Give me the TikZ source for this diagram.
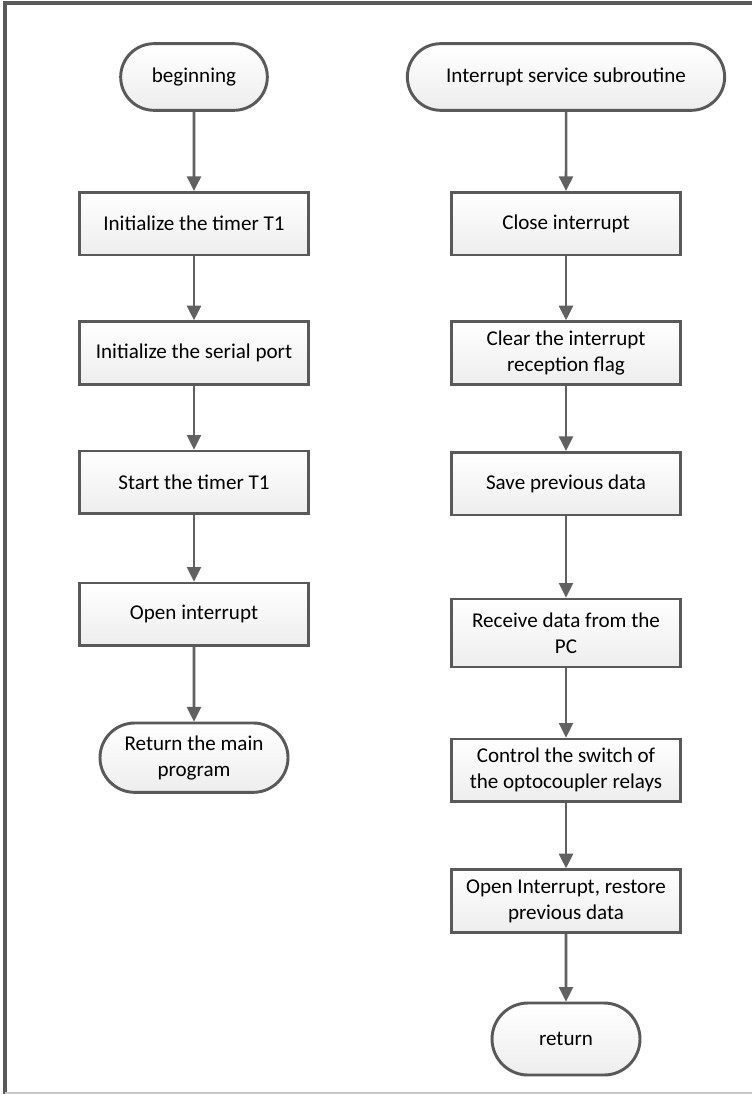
\documentclass[tikz,border=0pt]{standalone}
\usepackage{fontspec}
\setmainfont{Carlito}
\usetikzlibrary{positioning, arrows.meta, shapes.misc}

\begin{document}
\begin{tikzpicture}[
	x=0.75pt, y=-0.75pt, % work in pixel units, y downwards
	node distance=50pt,
	>={Triangle[width=10.5pt,length=11pt]},
	% Style for Nodes
	object/.style={
		draw=black!65,
		line width=2.2pt,
		top color=white,
		bottom color=black!7,
		align=center,
		inner sep=2pt,
		outer sep=0pt,
		font=\fontsize{15.8}{19.5}\selectfont
	},
	% Specific Node Styles
	process/.style={object, rectangle, minimum width=172pt, minimum height=47pt},
	terminal/.style={object, rounded rectangle, minimum height=50pt},
	% Arrow Styles
	flow/.style={->, draw=black!62, line width=1.9pt, shorten >=1pt, shorten <=1pt}
	]
	\useasboundingbox (0,0) rectangle (752,1094);
	
	% --- FRAME ---
	\draw[black!65, line width=3pt] (5,1094) -- (5,3) -- (752,3);
	\draw[black!22, line width=0.8pt] (5,1093) -- (752,1093);
	
	% --- MAIN PROGRAM ---
	
	\node[terminal, minimum width=114pt] (Begin) at (194,77) {beginning};
	\node[process, below=61.5pt of Begin] (InitT1) {Initialize the timer T1};
	\node[process, below=of InitT1] (InitSerial) {Initialize the serial port};
	\node[process, below=of InitSerial] (StartT1) {Start the timer T1};
	\node[process, below=52pt of StartT1] (OpenInt) {Open interrupt};
	\node[terminal, minimum width=145pt, minimum height=52pt, below=58pt of OpenInt] (RetMain) {Return the main\\program};
	
	% --- INTERRUPT SERVICE SUBROUTINE ---
	
	\node[terminal, minimum width=242pt] (ISR) at (566,77) {Interrupt service subroutine};
	\node[process, below=61.5pt of ISR] (CloseInt) {Close interrupt};
	\node[process, below=of CloseInt] (ClearFlag) {Clear the interrupt\\reception flag};
	\node[process, below=51pt of ClearFlag] (SaveData) {Save previous data};
	\node[process, minimum height=51pt, below=63pt of SaveData] (RecvData) {Receive data from the\\PC};
	\node[process, below=54pt of RecvData] (Relays) {Control the switch of\\the optocoupler relays};
	\node[process, below=51pt of Relays] (Restore) {Open Interrupt, restore\\previous data};
	\node[terminal, minimum width=115pt, minimum height=54pt, below=53pt of Restore] (Return) {return};
	
	% --- CONNECTIONS ---
	
	\draw[flow] (Begin) -- (InitT1);
	\draw[flow] (InitT1) -- (InitSerial);
	\draw[flow] (InitSerial) -- (StartT1);
	\draw[flow] (StartT1) -- (OpenInt);
	\draw[flow] (OpenInt) -- (RetMain);
	
	\draw[flow] (ISR) -- (CloseInt);
	\draw[flow] (CloseInt) -- (ClearFlag);
	\draw[flow] (ClearFlag) -- (SaveData);
	\draw[flow] (SaveData) -- (RecvData);
	\draw[flow] (RecvData) -- (Relays);
	\draw[flow] (Relays) -- (Restore);
	\draw[flow] (Restore) -- (Return);
	
\end{tikzpicture}
\end{document}
